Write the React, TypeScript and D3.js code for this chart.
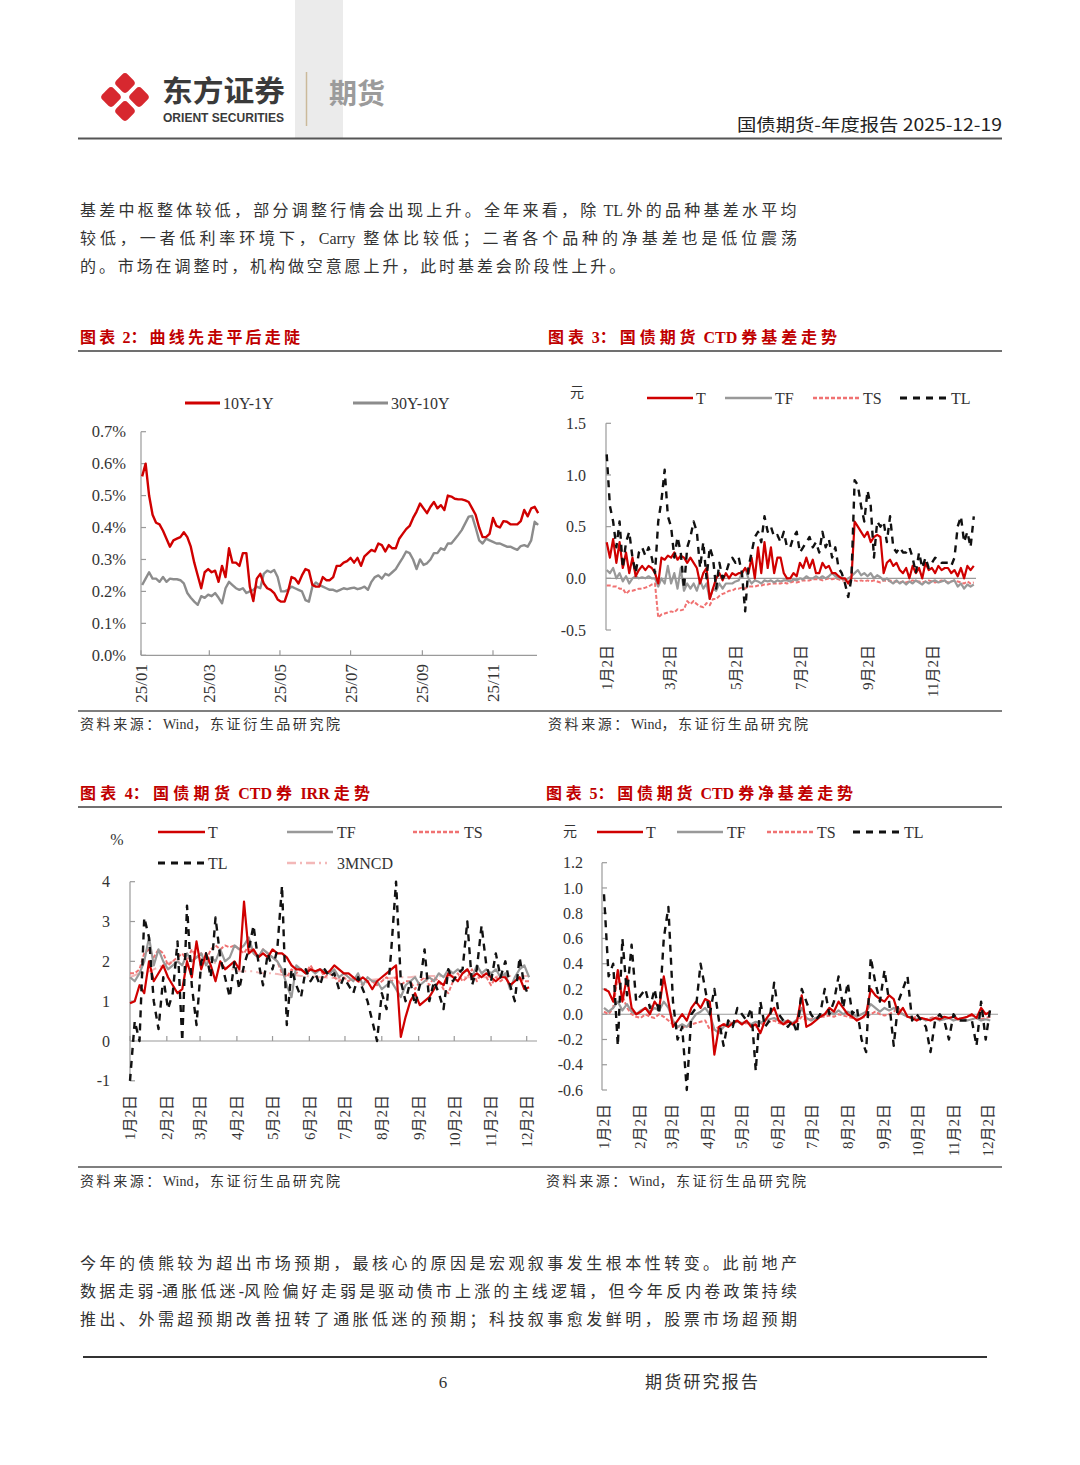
import React from "react";
import * as d3 from "d3";

const SERIF = "'Liberation Serif', 'Noto Sans CJK SC', serif";
const SANS = "'Noto Sans CJK SC', 'Noto Sans', sans-serif";
const RED = "#d00000";
const TITLE_RED = "#c00000";
const GREY = "#999999";
const TS_RED = "#f07272";
const NCD_PINK = "#f3b8b8";
const AXIS = "#9a9a9a";
const TEXT = "#333333";

// ---- 图表2：曲线 ----
const curveStart = new Date(2025, 0, 2);
const curveStep = 3; // days between points
const curveTicks = ["25/01", "25/03", "25/05", "25/07", "25/09", "25/11"];
const curveYTicks = [0, 0.1, 0.2, 0.3, 0.4, 0.5, 0.6, 0.7];
const spread10y1y = [
  0.56, 0.6, 0.5, 0.44, 0.415, 0.41, 0.39, 0.365, 0.34, 0.36,
  0.365, 0.37, 0.385, 0.37, 0.34, 0.29, 0.25, 0.21, 0.26, 0.27,
  0.26, 0.265, 0.23, 0.28, 0.245, 0.335, 0.29, 0.29, 0.28, 0.32,
  0.32, 0.215, 0.17, 0.24, 0.255, 0.225, 0.21, 0.205, 0.195, 0.175,
  0.168, 0.168, 0.2, 0.245, 0.24, 0.225, 0.25, 0.27, 0.265, 0.22,
  0.215, 0.215, 0.245, 0.235, 0.235, 0.245, 0.28, 0.28, 0.29, 0.295,
  0.305, 0.29, 0.305, 0.28, 0.31, 0.32, 0.33, 0.325, 0.35, 0.345,
  0.325, 0.345, 0.335, 0.335, 0.365, 0.38, 0.395, 0.405, 0.43, 0.45,
  0.475, 0.46, 0.445, 0.465, 0.48, 0.46, 0.47, 0.455, 0.5, 0.497,
  0.49, 0.488, 0.488, 0.485, 0.48, 0.46, 0.44, 0.4, 0.37, 0.37,
  0.38, 0.43, 0.405, 0.4, 0.42, 0.418, 0.41, 0.41, 0.41, 0.42,
  0.455, 0.435, 0.46, 0.465, 0.445,
];
const spread30y10y = [
  0.22, 0.24, 0.26, 0.24, 0.24, 0.23, 0.245, 0.23, 0.24, 0.238,
  0.238, 0.235, 0.225, 0.195, 0.18, 0.168, 0.158, 0.185, 0.18, 0.19,
  0.185, 0.195, 0.18, 0.163, 0.21, 0.23, 0.22, 0.21, 0.205, 0.21,
  0.195, 0.2, 0.205, 0.215, 0.21, 0.255, 0.265, 0.26, 0.267, 0.245,
  0.2, 0.2, 0.205, 0.215, 0.21, 0.205, 0.2, 0.173, 0.168, 0.215,
  0.228, 0.22, 0.215, 0.21, 0.205, 0.205, 0.2, 0.205, 0.21, 0.207,
  0.21, 0.212, 0.207, 0.21, 0.215, 0.205, 0.23, 0.245, 0.25, 0.24,
  0.255, 0.25, 0.26, 0.27, 0.288, 0.305, 0.325, 0.32, 0.3, 0.27,
  0.3, 0.283, 0.288, 0.3, 0.32, 0.32, 0.335, 0.33, 0.35, 0.35,
  0.363, 0.377, 0.392, 0.413, 0.434, 0.436, 0.4, 0.36, 0.35, 0.365,
  0.36, 0.355, 0.35, 0.35, 0.345, 0.34, 0.34, 0.335, 0.33, 0.342,
  0.345, 0.34, 0.36, 0.418, 0.408,
];

// ---- 图表3：CTD 券基差 ----
const basisStart = new Date(2025, 0, 2);
const basisStep = 3;
const basisTicks = ["1月2日", "3月2日", "5月2日", "7月2日", "9月2日", "11月2日"];
const basisYTicks = [-0.5, 0, 0.5, 1.0, 1.5];
const basisT = [
  0.35, 0.2, 0.38, 0.15, 0.35, 0.1, 0.25, 0.05, 0.2, 0.02,
  0.08, 0.12, 0.08, 0.12, 0.1, 0.05, -0.05, 0.2, 0.18, 0.22,
  0.2, 0.25, 0.18, 0.22, 0.2, 0.15, 0.2, 0.15, 0.1, -0.05,
  0.05, 0.1, -0.2, -0.1, 0.0, 0.05, -0.02, 0.05, 0.0, 0.05,
  0.03, 0.05, 0.05, 0.1, 0.05, 0.2, 0.0, 0.3, 0.05, 0.35,
  0.1, 0.3, 0.05, 0.2, 0.2, 0.05, 0.0, 0.0, 0.05, 0.02,
  0.15, 0.1, 0.2, 0.1, 0.18, 0.05, 0.05, 0.15, 0.1, 0.12,
  0.05, 0.05, 0.02, 0.0, 0.0, -0.05, 0.0, 0.55, 0.5, 0.45,
  0.4, 0.45, 0.35, 0.4, 0.42, 0.4, 0.05, 0.15, 0.18, 0.12,
  0.15, 0.08, 0.05, 0.1, 0.0, 0.12, 0.05, 0.1, 0.0, 0.15,
  0.08, 0.1, 0.05, 0.12, 0.08, 0.1, 0.1, 0.05, 0.08, 0.02,
  0.1, 0.0, 0.12, 0.08, 0.12,
];
const basisTF = [
  0.08, 0.05, 0.1, 0.0, 0.05, -0.03, 0.02, -0.05, 0.0, 0.02,
  0.0, 0.01, 0.0, 0.02, 0.0, 0.0, -0.08, 0.0, -0.05, 0.12,
  -0.05, 0.05, -0.1, 0.1, -0.12, -0.05, -0.1, -0.05, -0.12, -0.02,
  -0.1, -0.05, -0.2, -0.1, -0.12, -0.05, -0.1, -0.05, -0.05, -0.05,
  -0.03, -0.02, 0.05, 0.1, 0.0, -0.05, -0.02, -0.03, -0.05, -0.02,
  -0.03, -0.02, -0.04, -0.02, -0.03, -0.02, -0.02, -0.03, -0.01, -0.02,
  0.0, -0.01, 0.02, 0.0, 0.0, 0.02, 0.0, 0.02, 0.0, 0.02,
  0.05, 0.02, 0.0, 0.0, -0.02, 0.0, 0.02, 0.05, 0.08, 0.03,
  0.05, 0.02, 0.05, 0.0, 0.03, 0.01, -0.02, 0.0, -0.03, -0.05,
  -0.02, -0.05, -0.03, -0.06, -0.03, -0.05, -0.02, -0.04, -0.06, -0.03,
  -0.05, -0.03, -0.02, -0.04, -0.03, -0.02, -0.05, -0.03, -0.02, -0.08,
  -0.05, -0.1, -0.06, -0.08, -0.06,
];
const basisTS = [
  -0.07, -0.07, -0.08, -0.08, -0.1, -0.1, -0.15, -0.12, -0.12, -0.11,
  -0.1, -0.1, -0.09, -0.08, -0.06, -0.05, -0.38, -0.35, -0.34, -0.33,
  -0.32, -0.33, -0.3, -0.31, -0.3, -0.22, -0.25, -0.22, -0.25, -0.27,
  -0.28, -0.24, -0.26, -0.2, -0.2, -0.17, -0.15, -0.14, -0.12, -0.12,
  -0.1, -0.1, -0.09, -0.1, -0.08, -0.08, -0.08, -0.07, -0.07, -0.06,
  -0.06, -0.05, -0.05, -0.05, -0.05, -0.04, -0.05, -0.04, -0.03, -0.04,
  -0.03, -0.02, -0.02, -0.02, -0.01, -0.01, -0.01, -0.02, -0.01, 0.0,
  -0.01, 0.0, -0.01, -0.02, -0.02, -0.03, -0.02, -0.02, -0.03, -0.02,
  -0.03, -0.02, -0.03, -0.02, -0.03, -0.04, -0.02, -0.03, -0.02, -0.03,
  -0.03, -0.04, -0.03, -0.04, -0.03, -0.02, -0.03, -0.03, -0.04, -0.03,
  -0.02, -0.03, -0.04, -0.03, -0.02, -0.03, -0.04, -0.03, -0.02, -0.03,
  -0.04, -0.05, -0.03, -0.05, -0.04,
];
const basisTL = [
  1.2, 0.7, 0.55, 0.3, 0.55, 0.1, 0.35, 0.45, 0.2, 0.05,
  0.25, 0.3, 0.22, 0.3, 0.2, 0.05, 0.55, 0.75, 1.05, 0.6,
  0.5, 0.2, 0.4, 0.25, -0.1, 0.3, 0.4, 0.55, 0.45, 0.1,
  0.35, 0.0, 0.3, 0.2, -0.1, 0.15, 0.0, 0.05, 0.15, 0.2,
  0.15, 0.2, 0.05, -0.32, 0.1, 0.25, 0.4, 0.45, 0.35, 0.6,
  0.45, 0.5, 0.4, 0.42, 0.35, 0.45, 0.3, 0.3, 0.4, 0.45,
  0.25, 0.3, 0.35, 0.4, 0.3, 0.35, 0.25, 0.45, 0.3, 0.38,
  0.2, 0.3, 0.1, 0.05, -0.05, -0.18, 0.0, 0.95, 0.9, 0.7,
  0.55, 0.85, 0.7, 0.2, 0.55, 0.5, 0.55, 0.35, 0.6, 0.3,
  0.25, 0.3, 0.25, 0.25, 0.3, 0.2, 0.05, 0.25, 0.1, 0.2,
  0.1, 0.15, 0.2, 0.18, 0.15, 0.15, 0.15, 0.12, 0.2, 0.5,
  0.6, 0.35, 0.45, 0.3, 0.6,
];

// ---- 图表4：CTD 券 IRR ----
const irrStart = new Date(2025, 0, 2);
const irrStep = 4;
const monthTicks = [
  "1月2日", "2月2日", "3月2日", "4月2日", "5月2日", "6月2日",
  "7月2日", "8月2日", "9月2日", "10月2日", "11月2日", "12月2日",
];
const irrYTicks = [-1, 0, 1, 2, 3, 4];
const irrT = [
  0.95, 1.0, 1.4, 1.2, 2.0, 1.5, 1.7, 1.9, 1.6, 1.4,
  1.2, 1.3, 2.0, 1.6, 2.5, 1.8, 2.2, 1.9, 1.5, 2.0,
  1.8, 1.9, 2.0, 1.8, 3.5, 2.2, 2.3, 2.1, 2.2, 2.1,
  2.3, 2.2, 2.2, 2.1, 1.9, 1.8, 1.8, 1.7, 1.8, 1.75,
  1.8, 1.7, 1.75, 1.9, 1.8, 1.7, 1.7, 1.6, 1.5, 1.6,
  1.5, 1.3, 1.5, 1.6, 1.7, 1.8, 1.9, 0.1, 0.6, 1.0,
  1.2, 0.9, 1.0, 1.1, 1.3, 1.5, 1.4, 1.7, 1.6, 1.5,
  1.7, 1.8, 1.6, 1.7, 1.6, 1.7, 1.6, 1.5, 1.6, 1.6,
  1.4, 1.5, 1.6, 1.3, 1.35,
];
const irrTF = [
  1.6, 1.5, 1.7, 2.0, 2.6, 1.9, 2.3, 2.0, 1.8, 1.9,
  2.0, 1.9, 2.2, 2.0, 2.1, 2.2, 1.9, 2.1, 2.0, 2.3,
  2.0, 2.1, 2.4, 2.3, 2.4, 2.6, 2.2, 2.1, 2.3, 2.2,
  2.1, 2.0, 1.8, 1.4, 1.1, 1.9, 1.8, 1.7, 1.8, 1.7,
  1.8, 1.75, 1.7, 1.8, 1.6, 1.7, 1.6, 1.5, 1.7, 1.4,
  1.6, 1.5, 1.5, 1.3, 1.4, 1.5, 1.3, 1.1, 1.4, 1.5,
  1.6, 1.4, 1.5, 1.6, 1.5, 1.7, 1.6, 1.8, 1.7, 1.8,
  1.7, 1.8, 1.6, 1.9, 1.7, 1.8, 1.7, 1.8, 1.6, 1.7,
  1.3, 1.6, 1.8, 1.9, 1.6,
];
const irrTS = [
  1.7, 1.7, 1.8, 2.2, 2.3, 2.1, 2.3, 2.2, 1.9, 2.0,
  2.1, 2.2, 2.0, 2.3, 2.1, 2.2, 2.0, 2.3, 2.4, 2.3,
  2.4, 2.35, 2.4, 2.3, 2.2, 2.4, 2.2, 2.1, 2.3, 2.2,
  2.1, 2.0, 1.7, 1.6, 1.8, 1.7, 1.8, 1.7, 1.9, 1.7,
  1.8, 1.6, 1.7, 1.6, 1.5, 1.6, 1.5, 1.6, 1.5, 1.4,
  1.5, 1.5, 1.4, 1.5, 1.6, 1.5, 1.6, 1.4, 1.5, 1.5,
  1.3, 1.5, 1.6, 1.4, 1.6, 1.5, 1.3, 1.2, 1.5, 1.7,
  1.5, 1.6, 1.8, 1.5, 1.7, 1.6, 1.4, 1.6, 1.5, 1.6,
  1.4, 1.5, 1.6, 1.5, 1.5,
];
const irrTL = [
  -1.0, 0.5, 0.0, 3.1, 2.6, 1.0, 0.3, 1.6, 0.8, 1.2,
  2.5, 0.0, 3.4, 1.4, 0.4, 2.0, 2.2, 1.6, 3.1, 2.1,
  1.6, 1.1, 2.0, 1.3, 1.9, 2.3, 2.9, 2.0, 1.4, 2.2,
  1.8, 2.3, 3.9, 0.4, 1.8, 1.4, 1.1, 1.8, 1.5, 1.7,
  1.4, 1.8, 1.6, 1.7, 1.3, 1.6, 1.4, 1.2, 1.6, 1.3,
  1.0, 0.5, 0.0, 1.2, 0.8, 2.3, 4.0, 1.5, 1.0, 1.5,
  0.9, 1.4, 2.3, 1.0, 1.5, 1.2, 0.8, 1.8, 1.5, 1.7,
  1.8, 3.0, 1.4, 1.8, 2.9, 1.9, 1.5, 2.2, 1.6, 2.0,
  1.4, 1.0, 2.1, 1.4, 1.1,
];
const irr3MNCD = [
  1.6, 1.65, 1.7, 1.7, 1.75, 1.8, 1.85, 1.9, 1.95, 2.0,
  2.0, 2.05, 2.05, 2.1, 2.1, 2.05, 2.0, 2.0, 1.95, 1.9,
  1.85, 1.8, 1.8, 1.75, 1.75, 1.75, 1.75, 1.72, 1.7, 1.7,
  1.7, 1.68, 1.66, 1.65, 1.65, 1.65, 1.63, 1.63, 1.62, 1.62,
  1.6, 1.6, 1.58, 1.58, 1.56, 1.56, 1.55, 1.55, 1.55, 1.55,
  1.54, 1.54, 1.55, 1.55, 1.56, 1.58, 1.6, 1.6, 1.6, 1.6,
  1.62, 1.62, 1.63, 1.63, 1.63, 1.63, 1.62, 1.62, 1.62, 1.62,
  1.6, 1.6, 1.6, 1.6, 1.6, 1.6, 1.6, 1.62, 1.62, 1.62,
  1.63, 1.63, 1.63, 1.63, 1.63,
];

// ---- 图表5：CTD 券净基差 ----
const netStart = new Date(2025, 0, 2);
const netStep = 4;
const netYTicks = [-0.6, -0.4, -0.2, 0, 0.2, 0.4, 0.6, 0.8, 1.0, 1.2];
const netT = [
  0.2, 0.18, 0.1, 0.35, 0.1, 0.3, 0.05, 0.0, 0.02, 0.05,
  0.0, 0.1, 0.05, 0.3, 0.1, -0.1, -0.05, 0.0, -0.05, 0.05,
  0.1, 0.05, 0.12, 0.1, -0.32, -0.1, -0.08, -0.1, -0.07, -0.05,
  -0.08, -0.05, -0.1, -0.08, -0.15, -0.05, 0.0, 0.05, -0.05, -0.08,
  -0.05, -0.08, -0.05, 0.15, -0.1, -0.08, -0.05, -0.02, 0.0, 0.05,
  0.02, 0.1, 0.05, 0.0, -0.02, -0.05, -0.03, 0.0, 0.2, 0.15,
  0.12, 0.1, 0.15, 0.12, 0.0, 0.05, -0.02, -0.03, -0.05, -0.03,
  -0.04, -0.05, -0.03, -0.04, -0.02, -0.03, -0.02, -0.04, -0.03, -0.02,
  0.0, -0.03, 0.05, 0.0, 0.02,
];
const netTF = [
  0.05, 0.02, 0.05, 0.1, 0.03, 0.08, 0.02, 0.0, 0.03, 0.05,
  0.02, 0.05, 0.03, 0.1, 0.05, -0.05, -0.1, -0.08, -0.1, -0.05,
  0.0, 0.02, 0.05, 0.0, -0.12, -0.15, -0.1, -0.08, -0.07, -0.06,
  -0.07, -0.06, -0.08, -0.06, -0.07, -0.05, -0.04, -0.03, -0.05, -0.06,
  -0.05, -0.07, -0.04, 0.05, -0.03, -0.05, -0.03, -0.02, 0.0, 0.02,
  0.0, 0.03, 0.0, 0.02, 0.0, -0.02, 0.0, 0.02, 0.08, 0.05,
  0.02, 0.05, 0.03, 0.05, 0.02, 0.0, -0.02, -0.03, -0.04, -0.03,
  -0.05, -0.04, -0.03, -0.05, -0.04, -0.03, -0.05, -0.04, -0.03, -0.05,
  -0.04, -0.03, -0.05, -0.04, -0.05,
];
const netTS = [
  0.02, 0.0, 0.05, 0.3, 0.15, 0.05, 0.0, -0.02, -0.03, 0.0,
  -0.02, -0.03, 0.0, -0.02, -0.05, -0.08, -0.1, -0.1, -0.1, -0.08,
  -0.07, -0.06, -0.05, -0.12, -0.12, -0.1, -0.08, -0.07, -0.06, -0.06,
  -0.08, -0.07, -0.08, -0.1, -0.08, -0.07, -0.06, -0.05, -0.07, -0.08,
  -0.07, -0.08, -0.06, -0.02, -0.05, -0.04, -0.03, -0.02, -0.02, -0.01,
  -0.02, 0.0, -0.01, -0.02, -0.03, -0.04, -0.03, -0.02, 0.0, 0.02,
  0.0, -0.01, 0.0, 0.02, 0.05, 0.0, -0.02, -0.03, -0.02, -0.03,
  -0.04, -0.03, -0.02, -0.03, -0.04, -0.03, -0.02, -0.03, -0.04, -0.02,
  -0.01, -0.03, -0.04, -0.03, -0.02,
];
const netTL = [
  0.95, 0.3, 0.4, -0.25, 0.6, 0.15, 0.55, 0.1, 0.15, 0.2,
  0.05, 0.2, 0.0, 0.6, 0.85, 0.1, -0.2, -0.1, -0.6, 0.0,
  0.05, 0.4, 0.2, 0.0, 0.2, -0.05, -0.25, -0.05, -0.1, 0.05,
  0.0, -0.05, 0.05, -0.45, 0.1, -0.1, -0.05, 0.25, 0.0, -0.05,
  -0.1, -0.05, -0.15, 0.2, 0.1, 0.0, -0.05, 0.0, 0.2, 0.0,
  0.1, 0.3, 0.05, 0.25, 0.0, 0.05, -0.2, -0.3, 0.45, 0.25,
  0.1, 0.35, 0.1, -0.25, 0.1, 0.2, 0.3, -0.05, 0.0, -0.05,
  -0.1, -0.3, -0.05, 0.0, -0.05, -0.2, 0.0, -0.05, -0.05, -0.05,
  -0.05, -0.25, 0.1, -0.2, 0.05,
];

// ---- 正文 ----
const topParagraph = [
  "基差中枢整体较低，部分调整行情会出现上升。全年来看，除 TL 外的品种基差水平均",
  "较低，一者低利率环境下，Carry  整体比较低；二者各个品种的净基差也是低位震荡",
  "的。市场在调整时，机构做空意愿上升，此时基差会阶段性上升。",
];
const bottomParagraph = [
  "今年的债熊较为超出市场预期，最核心的原因是宏观叙事发生根本性转变。此前地产",
  "数据走弱-通胀低迷-风险偏好走弱是驱动债市上涨的主线逻辑，但今年反内卷政策持续",
  "推出、外需超预期改善扭转了通胀低迷的预期；科技叙事愈发鲜明，股票市场超预期",
];
const sourceText = "资料来源：Wind，东证衍生品研究院";

function parseMonthDay(label: string) {
  const m = label.match(/(\d+)月(\d+)日/)!;
  return new Date(2025, +m[1] - 1, +m[2]);
}
function parseYm(label: string) {
  const [yy, mm] = label.split("/");
  return new Date(2000 + +yy, +mm - 1, 1);
}

// measure Latin runs so CJK runs can take the extra spacing
let measureCtx: CanvasRenderingContext2D | null = null;
function measure(text: string, size: number, weight: number) {
  if (!measureCtx) measureCtx = document.createElement("canvas").getContext("2d");
  if (!measureCtx) return text.length * size * 0.5;
  measureCtx.font = `${weight} ${size}px 'Liberation Serif'`;
  return measureCtx.measureText(text).width;
}
const CJK_RUN = /([\u2E80-\u9FFF\u3000-\u303F\uFF00-\uFFEF]+)/;
const isCjk = (s: string) => /[\u2E80-\u9FFF\u3000-\u303F\uFF00-\uFFEF]/.test(s);

function SpacedText(props: {
  text: string;
  x: number;
  y: number;
  size: number;
  weight?: number;
  fill: string;
  width?: number;
  spacing?: number;
  family?: string;
}) {
  const { text, x, y, size, fill } = props;
  const weight = props.weight ?? 400;
  const runs = text.split(CJK_RUN).filter((s) => s.length > 0);
  const nCjk = runs.filter(isCjk).reduce((a, s) => a + s.length, 0);
  const latinW = runs.filter((s) => !isCjk(s)).reduce((a, s) => a + measure(s, size, weight), 0);
  const sp =
    props.width != null ? (props.width - latinW - nCjk * size) / Math.max(1, nCjk - 1) : props.spacing ?? 0;
  return (
    <text
      x={x}
      y={y}
      fontFamily={props.family ?? SERIF}
      fontSize={size}
      fontWeight={weight}
      fill={fill}
      style={{ whiteSpace: "pre" }}
    >
      {runs.map((s, i) => (
        <tspan key={i} letterSpacing={isCjk(s) ? sp : 0}>
          {s}
        </tspan>
      ))}
    </text>
  );
}

type LineSpec = { values: number[]; color: string; width: number; dash?: string };

interface ChartProps {
  start: Date;
  step: number;
  xDomain: [Date, Date];
  xRange: [number, number];
  yDomain: [number, number];
  yRange: [number, number];
  yTicks: number[];
  yFmt: (v: number) => string;
  axisX: number;
  axisEnd: number;
  baseValue: number;
  labelX: number;
  ticks: { date: Date; label: string }[];
  labelTop: number;
  tickMarks: boolean;
  lines: LineSpec[];
  yFont: number;
  xFont: number;
}

function TimeChart(p: ChartProps) {
  const x = d3.scaleTime().domain(p.xDomain).range(p.xRange);
  const y = d3.scaleLinear().domain(p.yDomain).range(p.yRange);
  const baseY = y(p.baseValue);
  const path = d3
    .line<number>()
    .x((_, i) => x(d3.timeDay.offset(p.start, i * p.step)))
    .y((d) => y(d));
  return (
    <g>
      <line x1={p.axisX} x2={p.axisX} y1={y(p.yDomain[1])} y2={y(p.yDomain[0])} stroke={AXIS} strokeWidth={1.2} />
      {p.yTicks.map((t) => (
        <g key={t}>
          <line x1={p.axisX} x2={p.axisX + 5} y1={y(t)} y2={y(t)} stroke={AXIS} strokeWidth={1.2} />
          <text x={p.labelX} y={y(t)} dy="0.35em" textAnchor="end" fontFamily={SERIF} fontSize={p.yFont} fill={TEXT}>
            {p.yFmt(t)}
          </text>
        </g>
      ))}
      <line x1={p.axisX} x2={p.axisEnd} y1={baseY} y2={baseY} stroke={AXIS} strokeWidth={1.2} />
      {p.ticks.map((t) => (
        <g key={t.label}>
          {p.tickMarks && (
            <line x1={x(t.date)} x2={x(t.date)} y1={baseY} y2={baseY - 5} stroke={AXIS} strokeWidth={1.2} />
          )}
          <text
            transform={`translate(${x(t.date) + p.xFont * 0.36},${p.labelTop}) rotate(-90)`}
            textAnchor="end"
            fontFamily={SERIF}
            fontSize={p.xFont}
            fill={TEXT}
          >
            {t.label}
          </text>
        </g>
      ))}
      {p.lines.map((l, i) => (
        <path
          key={i}
          d={path(l.values) || ""}
          fill="none"
          stroke={l.color}
          strokeWidth={l.width}
          strokeDasharray={l.dash}
          strokeLinejoin="round"
        />
      ))}
    </g>
  );
}

function LegendItem(props: { x: number; y: number; len: number; gap?: number; label: string; spec: LineSpec }) {
  const { x, y, len, label, spec } = props;
  return (
    <g>
      <line x1={x} x2={x + len} y1={y} y2={y} stroke={spec.color} strokeWidth={spec.width + 0.5} strokeDasharray={spec.dash} />
      <text x={x + len + (props.gap ?? 3)} y={y} dy="0.35em" fontFamily={SERIF} fontSize={16} fill={TEXT}>
        {label}
      </text>
    </g>
  );
}

const sT: LineSpec = { values: [], color: RED, width: 2.2 };
const sTF: LineSpec = { values: [], color: GREY, width: 2.2 };
const sTS: LineSpec = { values: [], color: TS_RED, width: 2, dash: "4,2" };
const sTL: LineSpec = { values: [], color: "#111111", width: 2.4, dash: "7,6" };
const sNCD: LineSpec = { values: [], color: NCD_PINK, width: 2, dash: "9,4,2,4" };

function Logo() {
  const cx = 125;
  const cy = 97;
  const off = 14;
  const side = 16;
  const petals = [
    [cx, cy - off],
    [cx + off, cy],
    [cx, cy + off],
    [cx - off, cy],
  ];
  return (
    <g>
      {petals.map(([px, py], i) => (
        <rect
          key={i}
          x={-side / 2}
          y={-side / 2}
          width={side}
          height={side}
          rx={4}
          fill="#d7282f"
          transform={`translate(${px},${py}) rotate(45)`}
        />
      ))}
    </g>
  );
}

export default function App() {
  const fmt1 = (v: number) => v.toFixed(1);
  const curveLines: LineSpec[] = [
    { values: spread30y10y, color: "#8c8c8c", width: 2.4 },
    { values: spread10y1y, color: RED, width: 2.4 },
  ];
  const basisLines: LineSpec[] = [
    { ...sTS, values: basisTS },
    { ...sTF, values: basisTF },
    { ...sT, values: basisT },
    { ...sTL, values: basisTL },
  ];
  const irrLines: LineSpec[] = [
    { ...sNCD, values: irr3MNCD },
    { ...sTS, values: irrTS },
    { ...sTF, values: irrTF },
    { ...sT, values: irrT },
    { ...sTL, values: irrTL },
  ];
  const netLines: LineSpec[] = [
    { ...sTS, values: netTS },
    { ...sTF, values: netTF },
    { ...sT, values: netT },
    { ...sTL, values: netTL },
  ];

  const bodyText = (lines: string[], baseY: number, fullLast: boolean) =>
    lines.map((t, i) => {
      const full = i < lines.length - 1 || fullLast;
      return (
        <SpacedText
          key={i}
          text={t}
          x={80}
          y={baseY + i * 28}
          size={16}
          fill="#333"
          {...(full ? { width: 717 } : { spacing: 2.9 })}
        />
      );
    });

  return (
    <div style={{ position: "absolute", left: 0, top: 0, width: 1080, height: 1465, background: "#fff" }}>
      <svg width={1080} height={1465} style={{ display: "block" }}>
        <rect width={1080} height={1465} fill="#ffffff" />

        {/* header */}
        <rect x={295} y={0} width={48} height={138} fill="#ebebeb" />
        <Logo />
        <text x={162} y={102} fontFamily={SANS} fontWeight={700} fontSize={29} fill="#3a3a3a" textLength={123} lengthAdjust="spacingAndGlyphs">
          东方证券
        </text>
        <text x={163} y={122} fontFamily="'Liberation Sans', Arial, sans-serif" fontWeight={700} fontSize={12.5} fill="#3a3a3a" textLength={121} lengthAdjust="spacingAndGlyphs">
          ORIENT SECURITIES
        </text>
        <line x1={306.5} x2={306.5} y1={72} y2={126} stroke="#cbb99a" strokeWidth={1.5} />
        <text x={329} y={104} fontFamily={SANS} fontWeight={700} fontSize={28} fill="#9b9b9b">
          期货
        </text>
        <text x={1002} y={131} textAnchor="end" fontFamily={SANS} fontSize={17} fill="#222" textLength={265} lengthAdjust="spacingAndGlyphs">
          国债期货-年度报告 2025-12-19
        </text>
        <line x1={78} x2={1002} y1={138.5} y2={138.5} stroke="#555" strokeWidth={2} />

        {bodyText(topParagraph, 216, false)}

        {/* chart titles row 1 */}
        <SpacedText text="图表 2：曲线先走平后走陡" x={80} y={343} size={16} weight={700} fill={TITLE_RED} width={220} />
        <SpacedText text="图表 3：国债期货 CTD 券基差走势" x={548} y={343} size={16} weight={700} fill={TITLE_RED} width={289} />
        <line x1={78} x2={1002} y1={351} y2={351} stroke="#707070" strokeWidth={2} />

        {/* chart 2 */}
        <LegendItem x={185} y={403} len={35} label="10Y-1Y" spec={{ values: [], color: RED, width: 2.4 }} />
        <LegendItem x={353} y={403} len={35} label="30Y-10Y" spec={{ values: [], color: "#8c8c8c", width: 2.4 }} />
        <TimeChart
          start={curveStart}
          step={curveStep}
          xDomain={[new Date(2025, 0, 1), new Date(2025, 10, 1)]}
          xRange={[141, 493]}
          yDomain={[0, 0.7]}
          yRange={[655.3, 431.7]}
          yTicks={curveYTicks}
          yFmt={(v) => fmt1(v) + "%"}
          axisX={141}
          axisEnd={537}
          baseValue={0}
          labelX={126}
          ticks={curveTicks.map((l) => ({ date: parseYm(l), label: l }))}
          labelTop={664}
          tickMarks={true}
          lines={curveLines}
          yFont={16.5}
          xFont={17}
        />

        {/* chart 3 */}
        <text x={577} y={392} dy="0.35em" textAnchor="middle" fontFamily={SANS} fontSize={14} fill={TEXT}>
          元
        </text>
        <LegendItem x={647} y={398} len={46} label="T" spec={sT} />
        <LegendItem x={725} y={398} len={47} label="TF" spec={sTF} />
        <LegendItem x={813} y={398} len={47} label="TS" spec={sTS} />
        <LegendItem x={900} y={398} len={47} gap={4} label="TL" spec={sTL} />
        <TimeChart
          start={basisStart}
          step={basisStep}
          xDomain={[new Date(2025, 0, 2), new Date(2025, 10, 2)]}
          xRange={[606.7, 933]}
          yDomain={[-0.5, 1.5]}
          yRange={[630, 423.3]}
          yTicks={basisYTicks}
          yFmt={fmt1}
          axisX={606}
          axisEnd={976}
          baseValue={0}
          labelX={586}
          ticks={basisTicks.map((l) => ({ date: parseMonthDay(l), label: l }))}
          labelTop={645}
          tickMarks={false}
          lines={basisLines}
          yFont={16}
          xFont={15}
        />

        {/* sources row 1 */}
        <line x1={78} x2={1002} y1={711} y2={711} stroke="#555" strokeWidth={1.5} />
        <SpacedText text={sourceText} x={80} y={729} size={14} fill={TEXT} width={260} />
        <SpacedText text={sourceText} x={548} y={729} size={14} fill={TEXT} width={260} />

        {/* chart titles row 2 */}
        <SpacedText text="图表 4：国债期货 CTD 券 IRR 走势" x={80} y={799} size={16} weight={700} fill={TITLE_RED} width={290} />
        <SpacedText text="图表 5：国债期货 CTD 券净基差走势" x={546} y={799} size={16} weight={700} fill={TITLE_RED} width={307} />
        <line x1={78} x2={1002} y1={807} y2={807} stroke="#707070" strokeWidth={2} />

        {/* chart 4 */}
        <text x={117} y={839} dy="0.35em" textAnchor="middle" fontFamily={SERIF} fontSize={16} fill={TEXT}>
          %
        </text>
        <LegendItem x={158} y={832} len={47} label="T" spec={sT} />
        <LegendItem x={287} y={832} len={46} gap={4} label="TF" spec={sTF} />
        <LegendItem x={413} y={832} len={47} gap={4} label="TS" spec={sTS} />
        <LegendItem x={158} y={863} len={47} label="TL" spec={sTL} />
        <LegendItem x={287} y={863} len={40} gap={10} label="3MNCD" spec={sNCD} />
        <TimeChart
          start={irrStart}
          step={irrStep}
          xDomain={[new Date(2025, 0, 2), new Date(2025, 11, 2)]}
          xRange={[130, 526.7]}
          yDomain={[-1, 4]}
          yRange={[1080.8, 881.7]}
          yTicks={irrYTicks}
          yFmt={(v) => String(v)}
          axisX={130}
          axisEnd={537}
          baseValue={0}
          labelX={110}
          ticks={monthTicks.map((l) => ({ date: parseMonthDay(l), label: l }))}
          labelTop={1095}
          tickMarks={true}
          lines={irrLines}
          yFont={16}
          xFont={15}
        />

        {/* chart 5 */}
        <text x={570} y={831} dy="0.35em" textAnchor="middle" fontFamily={SANS} fontSize={14} fill={TEXT}>
          元
        </text>
        <LegendItem x={597} y={832} len={46} label="T" spec={sT} />
        <LegendItem x={677} y={832} len={46} gap={4} label="TF" spec={sTF} />
        <LegendItem x={767} y={832} len={46} gap={4} label="TS" spec={sTS} />
        <LegendItem x={853} y={832} len={47} gap={4} label="TL" spec={sTL} />
        <TimeChart
          start={netStart}
          step={netStep}
          xDomain={[new Date(2025, 0, 2), new Date(2025, 11, 2)]}
          xRange={[604, 988]}
          yDomain={[-0.6, 1.2]}
          yRange={[1090, 862.7]}
          yTicks={netYTicks}
          yFmt={fmt1}
          axisX={602}
          axisEnd={998}
          baseValue={0}
          labelX={583}
          ticks={monthTicks.map((l) => ({ date: parseMonthDay(l), label: l }))}
          labelTop={1104}
          tickMarks={false}
          lines={netLines}
          yFont={16}
          xFont={15}
        />

        {/* sources row 2 */}
        <line x1={78} x2={1002} y1={1167} y2={1167} stroke="#555" strokeWidth={1.5} />
        <SpacedText text={sourceText} x={80} y={1186} size={14} fill={TEXT} width={260} />
        <SpacedText text={sourceText} x={546} y={1186} size={14} fill={TEXT} width={260} />

        {bodyText(bottomParagraph, 1269, true)}

        {/* footer */}
        <line x1={83} x2={987} y1={1357} y2={1357} stroke="#333" strokeWidth={2} />
        <text x={443} y={1388} textAnchor="middle" fontFamily={SERIF} fontSize={17} fill={TEXT}>
          6
        </text>
        <SpacedText text="期货研究报告" x={645} y={1388} size={17} fill={TEXT} width={113} family={SANS} />
      </svg>
    </div>
  );
}
